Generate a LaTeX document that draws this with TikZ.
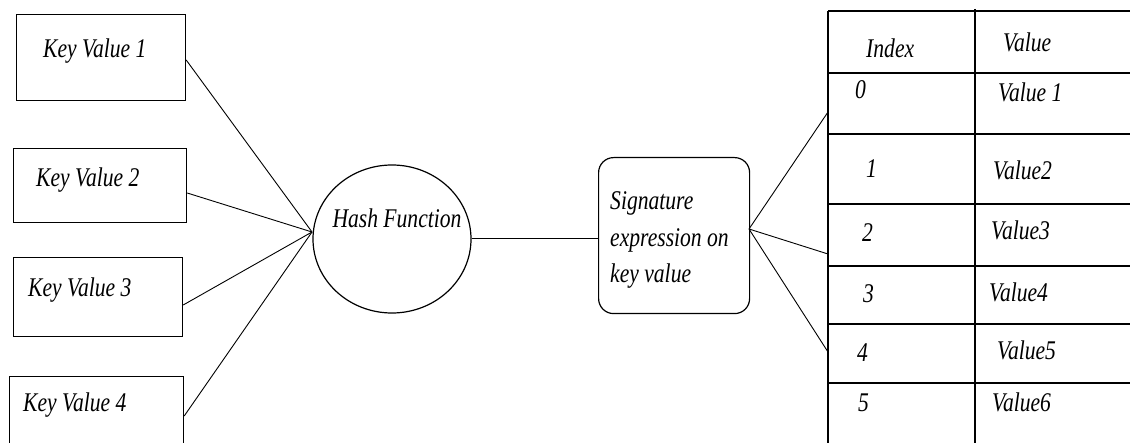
\documentclass[tikz,border=0pt]{standalone}
\usepackage{fontspec}
\newfontfamily\tf[FakeStretch=0.8]{Liberation Serif}
\usetikzlibrary{shapes.geometric}
\tikzset{
  every picture/.style={x=1pt,y=-1pt},
  box/.style={draw, line width=1.2pt, inner sep=0, anchor=north west},
  lbl/.style={inner sep=0, anchor=base west, font=\tf\itshape\fontsize{27}{36}\selectfont},
  conn/.style={line width=0.9pt},
  grid/.style={line width=1.4pt}
}
\begin{document}
\begin{tikzpicture}[x=1pt,y=-1pt]
\useasboundingbox (0,0) rectangle (1130,443);
\clip (0,0) rectangle (1130,443);
% key boxes
\node[box, minimum width=169pt, minimum height=86pt] (k1) at (16,14) {};
\node[box, minimum width=173pt, minimum height=74pt] (k2) at (13,148) {};
\node[box, minimum width=169pt, minimum height=79pt] (k3) at (13,257) {};
\node[box, minimum width=174pt, minimum height=80pt] (k4) at (9,376) {};
\node[lbl] (t1) at (43,58) {Key Value 1};
\node[lbl] (t2) at (36,187) {Key Value 2};
\node[lbl] (t3) at (28,297) {Key Value 3};
\node[lbl] (t4) at (23,412) {Key Value 4};
% hash ellipse
\node[draw, ellipse, line width=1.2pt, minimum width=158pt, minimum height=148pt, inner sep=0] (hash) at (392,239) {};
\node[lbl, anchor=base] (ht) at (397,228) {Hash Function};
\coordinate (hj) at (312,232);
% signature box
\node[box, rounded corners=15pt, minimum width=151pt, minimum height=156pt] (sig) at (598,157) {};
\node[lbl] (s1) at (610,210) {Signature};
\node[lbl] (s2) at (610,247) {expression on};
\node[lbl] (s3) at (610,283) {key value};
\coordinate (sj) at (749,229);
% connectors left
\draw[conn] (k1.north east |- 0,60) -- (hj);
\draw[conn] (k2.north east |- 0,193) -- (hj);
\draw[conn] (k3.north east |- 0,305) -- (hj);
\draw[conn] (k4.north east |- 0,416) -- (hj);
\draw[conn] (hash.east |- 0,238) -- (sig.west |- 0,238);
% table
\coordinate (tl) at (828,11);
\draw[grid] (828,11) -- (1130,11);
\draw[grid] (828,11) -- (828,446);
\draw[grid] (975,9) -- (975,446);
\foreach \yy in {73,134,204,266,324,383} \draw[grid] (828,\yy) -- (1130,\yy);
\coordinate (r0) at (828,112);
\coordinate (r2) at (828,254);
\coordinate (r4) at (828,352);
\draw[conn] (sj) -- (r0);
\draw[conn] (sj) -- (r2);
\draw[conn] (sj) -- (r4);
% table texts
\node[lbl] (hi) at (866,58) {Index};
\node[lbl] (hv) at (1003,52) {Value};
\node[lbl] (i0) at (855,99) {0};
\node[lbl] (v0) at (998,102) {Value 1};
\node[lbl] (i1) at (866,178) {1};
\node[lbl] (v1) at (993,180) {Value2};
\node[lbl] (i2) at (862,242) {2};
\node[lbl] (v2) at (991,240) {Value3};
\node[lbl] (i3) at (863,303) {3};
\node[lbl] (v3) at (989,302) {Value4};
\node[lbl] (i4) at (857,362) {4};
\node[lbl] (v4) at (997,360) {Value5};
\node[lbl] (i5) at (858,412) {5};
\node[lbl] (v5) at (992,412) {Value6};
\end{tikzpicture}
\end{document}
